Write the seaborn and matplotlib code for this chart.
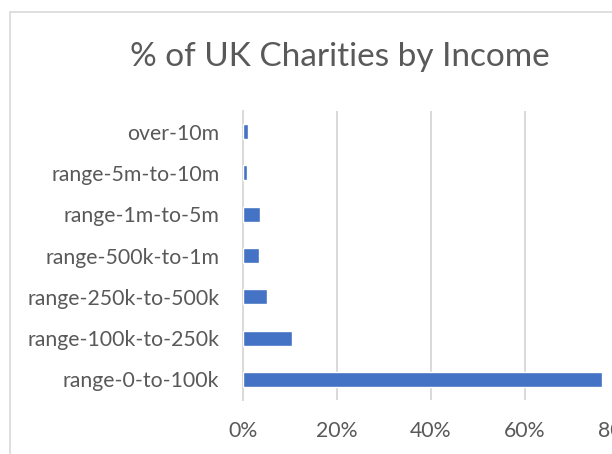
import matplotlib
matplotlib.use("Agg")
import matplotlib.pyplot as plt
import matplotlib.patches as mpatches
from matplotlib.ticker import PercentFormatter, MultipleLocator
import seaborn as sns
import pandas as pd

# Income bands, listed top to bottom as drawn
bands = [
    "over-10m",
    "range-5m-to-10m",
    "range-1m-to-5m",
    "range-500k-to-1m",
    "range-250k-to-500k",
    "range-100k-to-250k",
    "range-0-to-100k",
]
# Share of UK charities in each band (fraction of total)
share = [0.010, 0.008, 0.036, 0.034, 0.051, 0.104, 0.763]

title_text = "% of UK Charities by Income"

sns.set_style("white")
plt.rcParams["font.family"] = ["Lato", "DejaVu Sans"]

W, H = 612, 454
fig = plt.figure(figsize=(W / 100, H / 100), dpi=100)
fig.patch.set_facecolor("white")

# Chart-area frame (runs off the right and bottom edges)
frame = mpatches.Rectangle((10 / W, -0.05), 1.2, (H - 12) / H + 0.05,
                           transform=fig.transFigure, fill=False,
                           edgecolor="#d9d9d9", linewidth=1.2, zorder=0)
fig.patches.append(frame)

# Plot area: 0% at x=243, 20% step = 94 px, axis top 111, bottom 400
left, right = 243, 243 + 4 * 94
top, bottom = 111, 400
ax = fig.add_axes([left / W, 1 - bottom / H, (right - left) / W, (bottom - top) / H])

df = pd.DataFrame({"band": bands, "share": share})
sns.barplot(data=df, x="share", y="band", order=bands, orient="h",
            color="#4472C4", saturation=1, width=0.36, ax=ax, zorder=3)

ax.set_xlim(0, 0.8)
ax.set_ylim(len(bands) - 0.5, -0.5)
ax.xaxis.set_major_locator(MultipleLocator(0.2))
ax.xaxis.set_major_formatter(PercentFormatter(1.0, decimals=0))
ax.grid(axis="x", color="#d9d9d9", linewidth=1.4, zorder=0)
ax.grid(axis="y", visible=False)
for s in ["top", "right", "bottom"]:
    ax.spines[s].set_visible(False)
ax.spines["left"].set_color("#d9d9d9")
ax.spines["left"].set_linewidth(1.4)
ax.set_xlabel("")
ax.set_ylabel("")
ax.tick_params(axis="both", length=0, colors="#595959", labelsize=15.3)
ax.tick_params(axis="y", pad=17)
ax.tick_params(axis="x", pad=15)
ax.set_facecolor("none")

fig.text(340 / W, 1 - 57 / H, title_text, ha="center", va="center",
         fontsize=24, color="#595959")

fig.savefig("out.png", dpi=100)
